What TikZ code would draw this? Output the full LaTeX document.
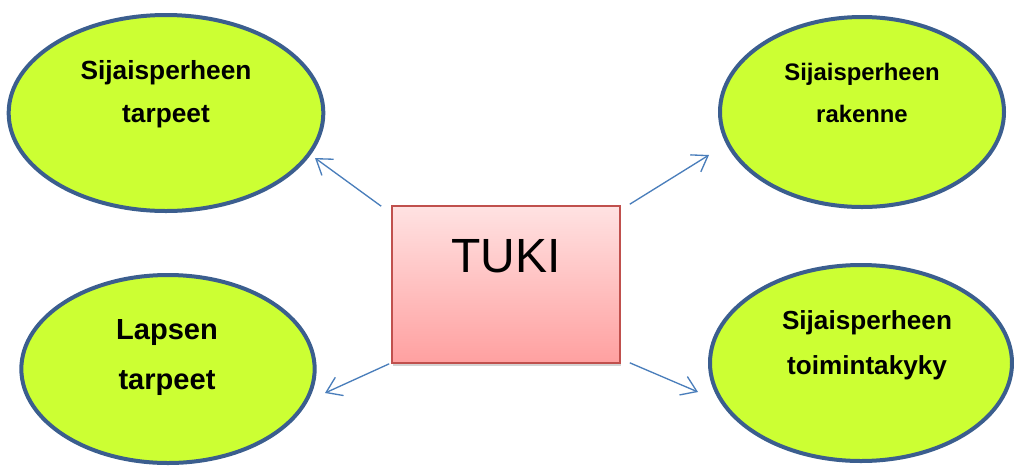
\documentclass[tikz,border=0pt]{standalone}
\usepackage{fontspec}
\setmainfont{Liberation Sans}
\usepackage{tikz}
\usetikzlibrary{calc,shapes.geometric,arrows.meta,shadows}
\definecolor{bubblefill}{RGB}{204,255,51}
\definecolor{bubbleline}{RGB}{59,94,142}
\definecolor{linkblue}{RGB}{74,126,187}
\definecolor{tukiline}{RGB}{192,80,77}
\definecolor{tukitop}{RGB}{255,226,226}
\definecolor{tukibottom}{RGB}{255,160,160}
\tikzset{
	bubble/.style={ellipse, draw=bubbleline, fill=bubblefill, line width=3pt, inner sep=0pt},
	bubtext/.style={align=center, font=\bfseries},
	tukibox/.style={rectangle, draw=tukiline, line width=1.2pt, top color=tukitop, bottom color=tukibottom,
		drop shadow={shadow xshift=1pt, shadow yshift=-2pt, opacity=0.35}, inner sep=0pt},
	link/.style={draw=linkblue, line width=1pt, -{Straight Barb[length=11pt,width=15pt]}}
}

\begin{document}
\begin{tikzpicture}[x=0.75pt, y=-0.75pt]
		%%%%% START %%%%%
		
		\useasboundingbox (0, 0) rectangle (1014, 465);
		
		\node[bubble, minimum width=236pt, minimum height=147pt] (tl) at (166, 113) {};
		\node[bubtext, font=\bfseries\fontsize{19.7}{32}\selectfont] (tltext) at (166, 94) {Sijaisperheen\\tarpeet};
		
		\node[bubble, minimum width=213pt, minimum height=142.5pt] (tr) at (862, 112) {};
		\node[bubtext, font=\bfseries\fontsize{17.9}{31}\selectfont] (trtext) at (862, 93) {Sijaisperheen\\rakenne};
		
		\node[bubble, minimum width=220pt, minimum height=141pt] (bl) at (168, 369) {};
		\node[bubtext, font=\bfseries\fontsize{21.8}{37.5}\selectfont] (bltext) at (167, 358) {Lapsen\\tarpeet};
		
		\node[bubble, minimum width=226.5pt, minimum height=147pt] (br) at (861, 363) {};
		\node[bubtext, font=\bfseries\fontsize{19.6}{34}\selectfont] (brtext) at (867, 345) {Sijaisperheen\\toimintakyky};
		
		\node[tukibox, minimum width=171pt, minimum height=117.75pt] (tuki) at (506, 284.5) {};
		\node[font=\fontsize{36}{40}\selectfont] (tukitext) at ($(tuki.north)+(0, 51)$) {TUKI};
		
		\draw[link] ($(tuki.north west)+(-10, 1)$) -- ($(tl.center)+(149, 45)$);
		\draw[link] ($(tuki.north east)+(9, -1)$) -- ($(tr.center)+(-153, 43)$);
		\draw[link] ($(tuki.south west)+(-2, 0)$) -- ($(bl.center)+(157, 24)$);
		\draw[link] ($(tuki.south east)+(9, -1)$) -- ($(br.center)+(-163, 29)$);
		
		%%%%% END %%%%%
	\end{tikzpicture}
\end{document}
